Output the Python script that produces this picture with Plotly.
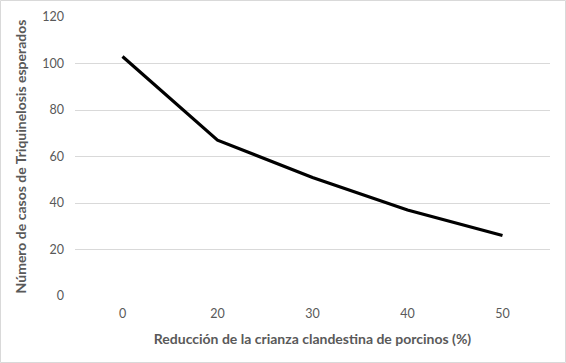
import plotly.graph_objects as go

categories = ["0", "20", "30", "40", "50"]
casos = [103, 67, 51, 37, 26]
y_ticks = [0, 20, 40, 60, 80, 100, 120]

x_title = "Reducción de la crianza clandestina de porcinos (%)"
y_title = "Número de casos de Triquinelosis esperados"

fig = go.Figure()
fig.add_trace(go.Scatter(
    x=categories, y=casos, mode="lines",
    line=dict(color="black", width=3.2),
    showlegend=False, hoverinfo="x+y",
))

font_family = "Lato, Open Sans, sans-serif"
gray = "#595959"

fig.update_layout(
    width=566, height=363,
    margin=dict(l=75, r=16, t=17, b=67),
    paper_bgcolor="white", plot_bgcolor="white",
    font=dict(family=font_family, color=gray, size=12),
    xaxis=dict(
        type="category", range=[-0.5, 4.5],
        showgrid=False, showline=False, zeroline=False, ticks="",
        tickfont=dict(size=12.5, color=gray),
        ticklabelstandoff=8,
        title=dict(text=f"<b>{x_title}</b>", font=dict(size=14, color=gray), standoff=14),
        automargin=False,
    ),
    yaxis=dict(
        range=[0, 120], tickvals=y_ticks,
        showgrid=True, gridcolor="#d9d9d9", gridwidth=1,
        showline=False, zeroline=False, ticks="",
        tickfont=dict(size=12.5, color=gray),
        ticklabelstandoff=10,
        title=dict(text=f"<b>{y_title}</b>", font=dict(size=14, color=gray), standoff=12),
        automargin=False,
    ),
    shapes=[dict(
        type="rect", xref="paper", yref="paper",
        x0=-74.5/475, x1=(566-75-0.5)/475,
        y0=-(67-0.5)/279, y1=(279+17-0.5)/279,
        line=dict(color="#d9d9d9", width=1), fillcolor="rgba(0,0,0,0)", layer="below",
    )],
)

fig.write_html("out.html", config={"displayModeBar": False},
               post_script="document.body.style.margin='0';")
